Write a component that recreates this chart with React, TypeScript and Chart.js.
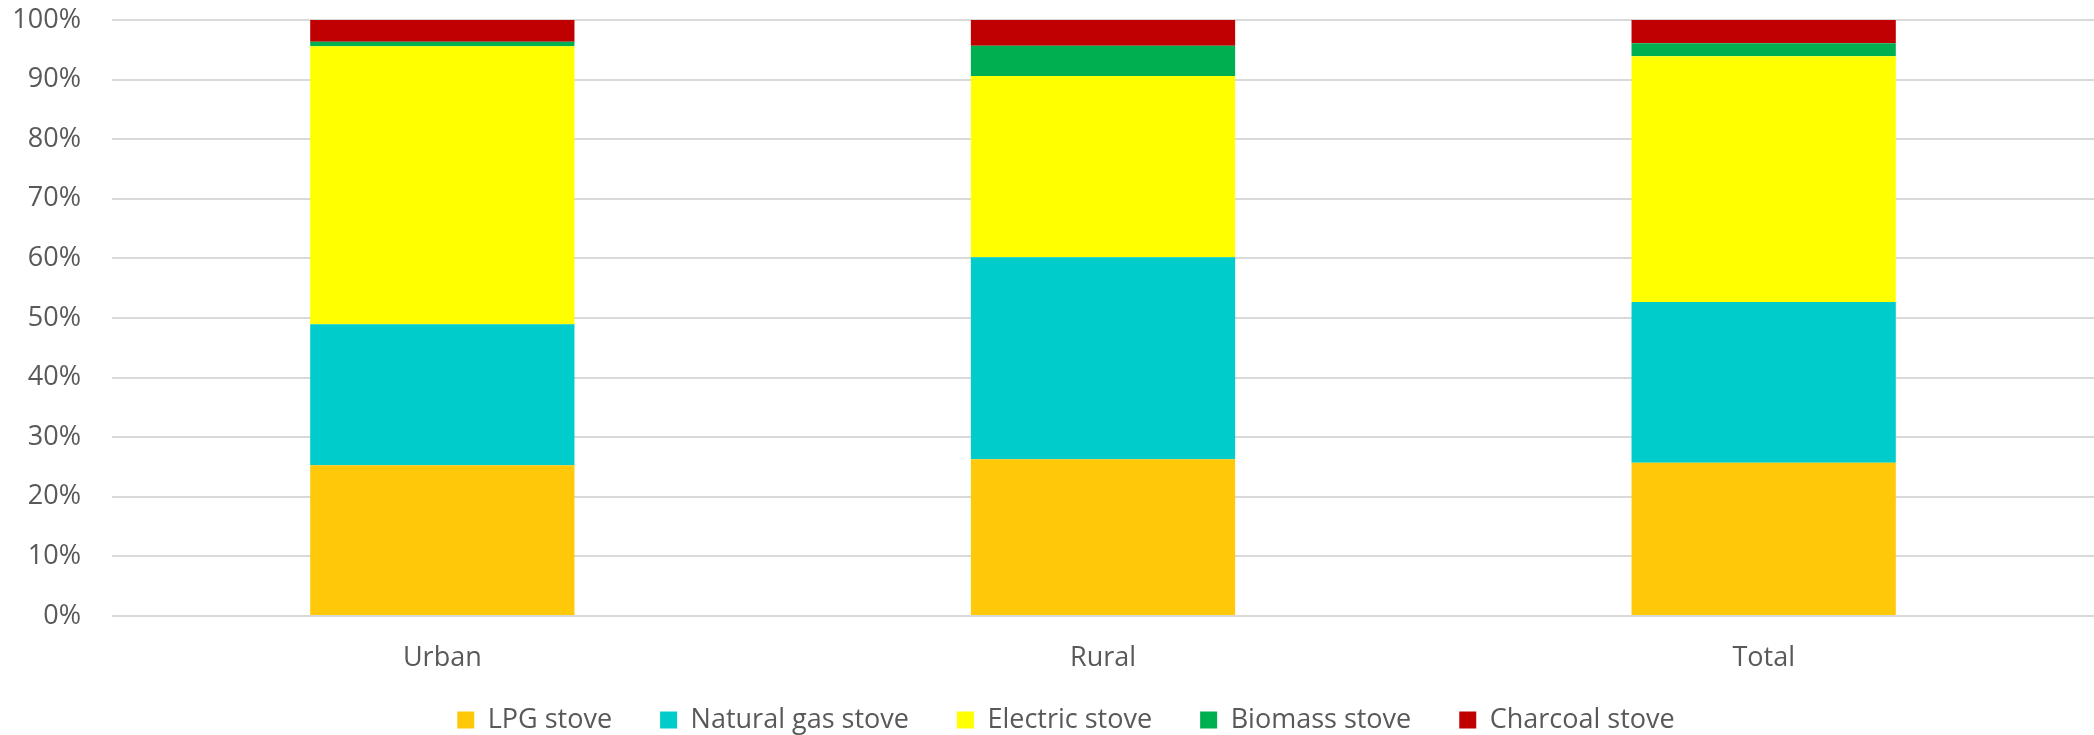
import React, { useEffect, useRef } from "react";
import { Chart, registerables } from "chart.js";

Chart.register(...registerables);

// Household cooking stove type shares (%) by area
const categories = ["Urban", "Rural", "Total"];
const lpgStove = [25.3, 26.3, 25.7];
const naturalGasStove = [23.65, 33.9, 27.0];
const electricStove = [46.65, 30.4, 41.2];
const biomassStove = [0.75, 5.1, 2.2];
const charcoalStove = [3.65, 4.3, 3.9];

const seriesNames = ["LPG stove", "Natural gas stove", "Electric stove", "Biomass stove", "Charcoal stove"];
const seriesColors = ["#FFC90A", "#00CCCC", "#FFFF00", "#00B050", "#C00000"];
const yTicks = [0, 10, 20, 30, 40, 50, 60, 70, 80, 90, 100];

const FONT = "'Open Sans', 'DejaVu Sans', sans-serif";
const TEXT = "#595959";
const LEGEND_PAD = 48;
const LEGEND_FONT = 27;

// Places the legend row below the axis labels, slightly right of the canvas centre
const legendPlacement = {
  id: "legendPlacement",
  afterLayout(chart: any) {
    const lg = chart.legend;
    if (!lg) return;
    lg.top = 720 - LEGEND_PAD - LEGEND_FONT / 2;
    lg.bottom = chart.height;
    lg.height = lg.bottom - lg.top;
    lg.left += 19;
    lg.right += 19;
  },
};

export default function App() {
  const canvasRef = useRef<HTMLCanvasElement | null>(null);

  useEffect(() => {
    document.body.style.margin = "0";
    const canvas = canvasRef.current;
    if (!canvas) return;
    const values = [lpgStove, naturalGasStove, electricStove, biomassStove, charcoalStove];
    const chart = new Chart(canvas, {
      type: "bar",
      data: {
        labels: categories,
        datasets: seriesNames.map((name, i) => ({
          label: name,
          data: values[i],
          backgroundColor: seriesColors[i],
          borderWidth: 0,
          barPercentage: 0.4,
          categoryPercentage: 1,
        })),
      },
      plugins: [legendPlacement],
      options: {
        responsive: false,
        animation: false,
        devicePixelRatio: 1,
        layout: { padding: { top: 20, left: 0, right: 0, bottom: 0 } },
        plugins: {
          tooltip: { enabled: false },
          legend: {
            position: "bottom",
            maxHeight: 62,
            labels: {
              color: TEXT,
              font: { family: FONT, size: LEGEND_FONT },
              boxWidth: 17,
              boxHeight: 17,
              padding: LEGEND_PAD,
            },
          },
        },
        scales: {
          x: {
            stacked: true,
            grid: { display: false },
            border: { display: false },
            ticks: {
              color: TEXT,
              font: { family: FONT, size: 27 },
              padding: 18,
            },
            afterFit: (scale: any) => {
              scale.height = 57;
            },
          },
          y: {
            stacked: true,
            min: 0,
            max: 100,
            border: { display: false },
            grid: { color: "#D9D9D9", lineWidth: 2, drawTicks: false },
            afterBuildTicks: (scale: any) => {
              scale.ticks = yTicks.map((v) => ({ value: v }));
            },
            ticks: {
              color: TEXT,
              font: { family: FONT, size: 27 },
              padding: 31,
              callback: (v: any) => `${v}%`,
            },
            afterFit: (scale: any) => {
              scale.width = 112;
              scale.paddingTop = 16;
              scale.paddingBottom = 16;
            },
          },
        },
      },
    });
    return () => chart.destroy();
  }, []);

  return (
    <div style={{ width: 2094, height: 735, background: "#fff" }}>
      <canvas ref={canvasRef} width={2094} height={735} />
    </div>
  );
}
